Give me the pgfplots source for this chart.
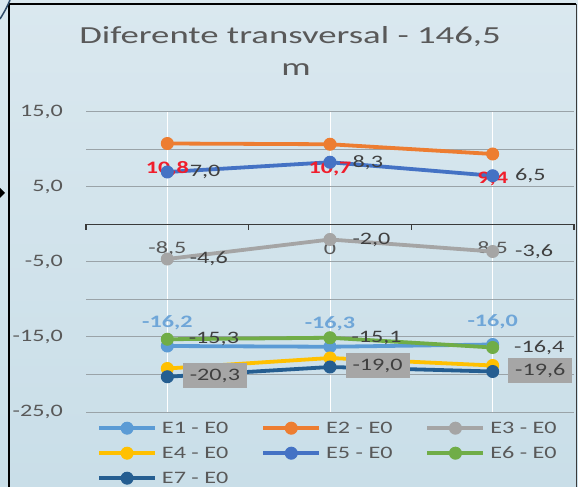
\documentclass[border=0pt]{standalone}
\usepackage{fontspec}
\setmainfont{Carlito}[FakeStretch=1.38]
\newfontfamily\titlefont{Carlito}[FakeStretch=1.5]
\usepackage{pgfplots}
\pgfplotsset{compat=1.18}
\definecolor{bgtop}{HTML}{DAE8EF}
\definecolor{bgbot}{HTML}{C9DEE8}
\definecolor{gridc}{HTML}{9AA3A8}
\definecolor{txt}{HTML}{595959}
\definecolor{lab}{HTML}{404040}
\definecolor{axc}{HTML}{3A3A3A}
\definecolor{boxc}{HTML}{A6A6A6}
\definecolor{curvec}{HTML}{2E4A66}
\definecolor{cA}{HTML}{5B9BD5}
\definecolor{cB}{HTML}{ED7D31}
\definecolor{cC}{HTML}{A5A5A5}
\definecolor{cD}{HTML}{FFC000}
\definecolor{cE}{HTML}{4472C4}
\definecolor{cF}{HTML}{70AD47}
\definecolor{cG}{HTML}{255E91}
\definecolor{labA}{HTML}{6FA6D8}
\definecolor{labB}{HTML}{F01E2C}
\newcommand\lbl{\fontsize{17.5bp}{21bp}\selectfont}
\begin{document}
\begin{tikzpicture}
\path[use as bounding box] (0,0) rectangle (578bp,487bp);
\shade[top color=bgtop,bottom color=bgbot] (0,0) rectangle (578bp,487bp);
\draw[black, line width=2bp] (9bp,0) -- (9bp,483bp) -- (576bp,483bp);
\draw[axc, line width=0.8bp] (576.5bp,483bp) -- (576.5bp,0);
\draw[curvec, line width=1.5bp] (0,468bp) .. controls (5bp,476bp) and (8bp,482bp) .. (10bp,487bp);
\fill[black] (0,299bp) -- (5bp,294bp) -- (0,289bp) -- cycle;
\node[anchor=base, text=txt, font=\titlefont\fontsize{24.5bp}{29bp}\selectfont] at (290bp,443bp) {Diferente transversal - 146,5};
\node[anchor=base, text=txt, font=\titlefont\fontsize{24.5bp}{29bp}\selectfont] at (296bp,411bp) {m};
\begin{axis}[
  at={(86bp,75bp)}, anchor=south west, scale only axis,
  width=488bp, height=300bp,
  xmin=-0.5, xmax=2.5, ymin=-25, ymax=15,
  clip=false,
  axis line style={draw=none},
  xtick={0,1,2}, xticklabels={{-8,5},{0},{8,5}},
  ytick={-25,-15,-5,5,15}, minor ytick={-20,-10,0,10},
  major tick length=0pt, minor tick length=0pt,
  xmajorgrids, ymajorgrids, yminorgrids,
  major x grid style={white, line width=1bp},
  major y grid style={gridc, line width=1bp},
  minor y grid style={gridc, line width=1bp},
  /pgf/number format/.cd, fixed, fixed zerofill, precision=1, use comma, assume math mode=true,
  /pgfplots/.cd,
  ticklabel style={font=\lbl, text=txt, inner sep=0pt},
  yticklabel style={anchor=east, xshift=-23bp},
  xticklabel style={anchor=center, yshift=163bp},
  every axis plot/.append style={line width=3.8bp, mark=*, mark size=6bp},
  legend columns=3,
  legend image code/.code={\draw[mark repeat=2, mark phase=2, #1] plot coordinates {(0bp,0bp) (28bp,0bp) (56bp,0bp)};},
  legend style={at={(axis description cs:0,0)}, anchor=north west, xshift=11bp, yshift=-9bp,
    draw=none, fill=none, inner sep=0pt, font=\lbl, text=txt, row sep=11bp,
    nodes={text height=12bp, text depth=2bp, inner ysep=0pt, inner xsep=5bp},
    /tikz/every even column/.append style={column sep=28bp}},
  legend cell align=left,
]
\draw[axc, line width=1.6bp] (axis cs:-0.5,0) -- (axis cs:2.5,0);
\draw[axc, line width=1.6bp] (axis cs:-0.5,0) -- ([yshift=-6bp]axis cs:-0.5,0);
\draw[axc, line width=1.6bp] (axis cs:0.5,0) -- ([yshift=-6bp]axis cs:0.5,0);
\draw[axc, line width=1.6bp] (axis cs:1.5,0) -- ([yshift=-6bp]axis cs:1.5,0);
\draw[axc, line width=1.6bp] (axis cs:2.5,0) -- ([yshift=-6bp]axis cs:2.5,0);

\addplot[color=cA, mark options={solid, fill=cA, line width=1bp}, nodes near coords,
  nodes near coords style={font=\lbl\bfseries, text=labA, anchor=center, inner sep=0pt, yshift=23bp}]
  coordinates {(0,-16.2) (1,-16.3) (2,-16.0)};
\addlegendentry{E1 - E0}
\addplot[color=cB, mark options={solid, fill=cB, line width=1bp}, nodes near coords,
  nodes near coords style={font=\lbl\bfseries, text=labB, anchor=center, inner sep=0pt, yshift=-25bp}]
  coordinates {(0,10.8) (1,10.7) (2,9.4)};
\addlegendentry{E2 - E0}
\addplot[color=cC, mark options={solid, fill=cC, line width=1bp}, nodes near coords,
  nodes near coords style={font=\lbl, text=lab, anchor=west, inner sep=0pt, xshift=22bp}]
  coordinates {(0,-4.6) (1,-2.0) (2,-3.6)};
\addlegendentry{E3 - E0}
\addplot[color=cD, mark options={solid, fill=cD, line width=1bp}]
  coordinates {(0,-19.2) (1,-17.8) (2,-18.8)};
\addlegendentry{E4 - E0}
\addplot[color=cE, mark options={solid, fill=cE, line width=1bp}, nodes near coords,
  nodes near coords style={font=\lbl, text=lab, anchor=west, inner sep=0pt, xshift=22bp}]
  coordinates {(0,7.0) (1,8.3) (2,6.5)};
\addlegendentry{E5 - E0}
\addplot[color=cF, mark options={solid, fill=cF, line width=1bp}, nodes near coords,
  nodes near coords style={font=\lbl, text=lab, anchor=west, inner sep=0pt, xshift=21bp}]
  coordinates {(0,-15.3) (1,-15.1) (2,-16.4)};
\addlegendentry{E6 - E0}
\addplot[color=cG, mark options={solid, fill=cG, line width=1bp}, nodes near coords,
  nodes near coords style={font=\lbl, text=lab, fill=boxc, anchor=west, inner xsep=7bp, inner ysep=0pt, minimum height=25bp, xshift=15bp, yshift=1bp}]
  coordinates {(0,-20.3) (1,-19.0) (2,-19.6)};
\addlegendentry{E7 - E0}
\end{axis}
\end{tikzpicture}
\end{document}
